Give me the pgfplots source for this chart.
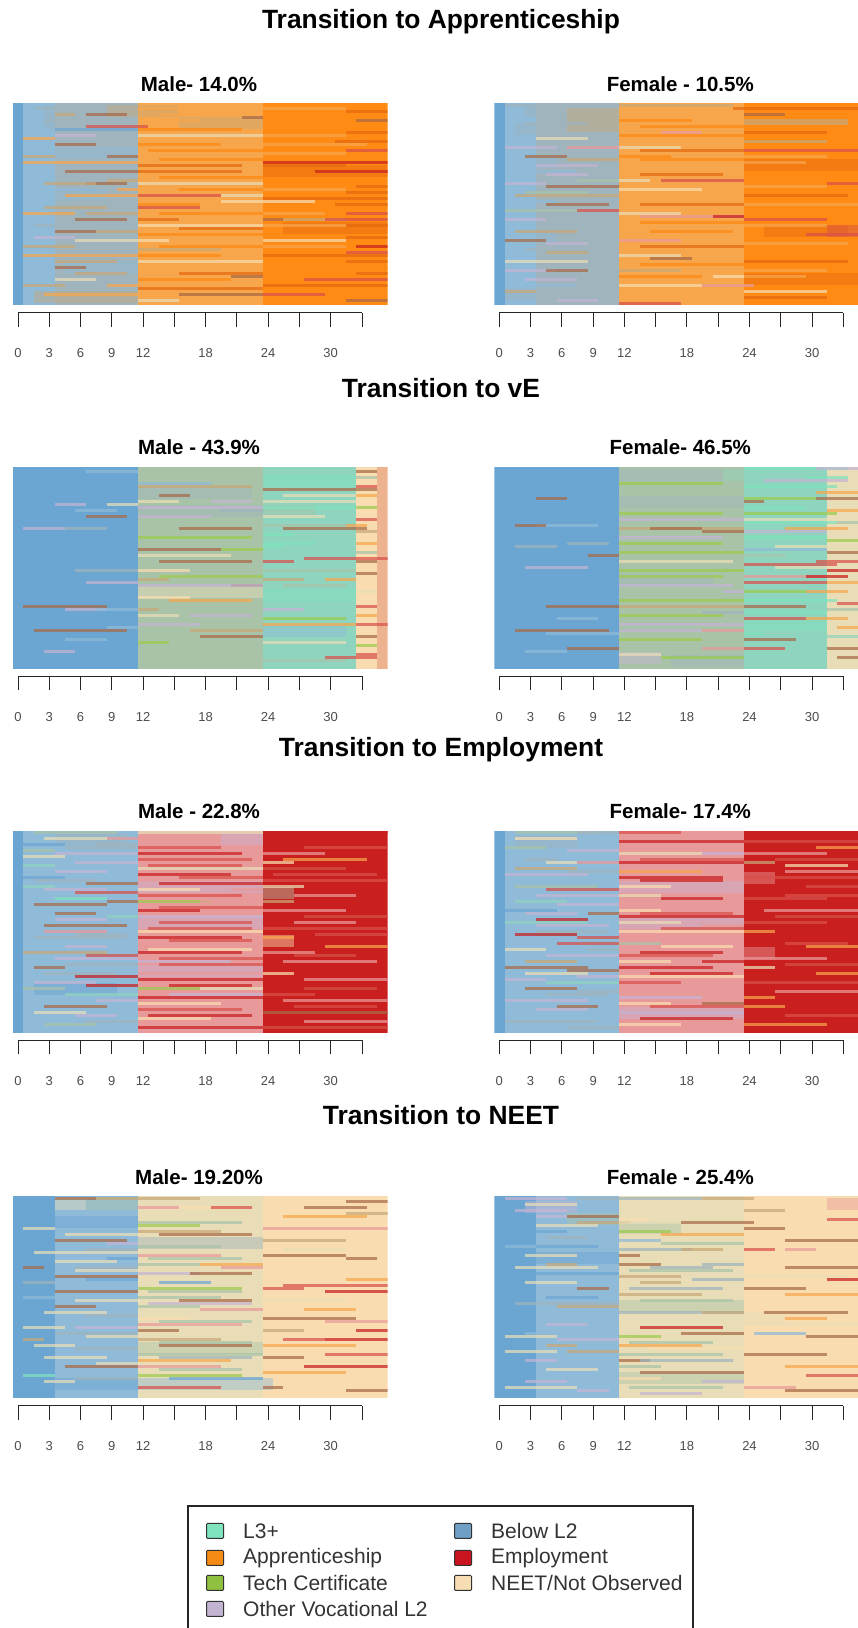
\documentclass[border=0pt]{standalone}
\usepackage{pgfplots}
\usepackage{pgfplotstable}
\usepackage{fontspec}
\setmainfont{Liberation Sans}
\pgfplotsset{compat=1.18}
\pgfplotsset{colormap={seq}{
HTML(0)=(7FE3BD) HTML(1)=(FF8A14) HTML(2)=(9CCB4F) HTML(3)=(C4B4D4) HTML(4)=(6BA6D3) HTML(5)=(C9201F)
HTML(6)=(F9DDB0) HTML(7)=(9FB4BC) HTML(8)=(F7A64C) HTML(9)=(C8A878) HTML(10)=(A9C3A8) HTML(11)=(E89A9A)
HTML(12)=(D9504A) HTML(13)=(8FD4BE) HTML(14)=(8FBAD8) HTML(15)=(E9DDB8) HTML(16)=(E56A10) HTML(17)=(A86A48)
HTML(18)=(EDB38F)}}
\definecolor{cL}{HTML}{7FE3BD}\definecolor{cA}{HTML}{F58A14}\definecolor{cT}{HTML}{8FC03F}
\definecolor{cO}{HTML}{C4B4D4}\definecolor{cB}{HTML}{6F9FC4}\definecolor{cE}{HTML}{C9141F}\definecolor{cN}{HTML}{F6DDB4}
% ---------- state tables: c = first month, y = row from top, l = months, s = state
\pgfplotstableread{
c y l s
0 33 1 4
1 33 3 14
4 33 8 7
12 33 12 8
24 33 12 1
}\Abase
\pgfplotstableread{
c y l s
3 2 7 7
3 6 7 7
9 2 3 9
9 7 3 7
12 2 4 9
16 6 8 9
2 64 10 9
4 16 8 14
1 30 8 14
5 54 7 14
24 22 12 16
26 41 10 16
}\Aband
\pgfplotstableread{
c y l s
2 1 4 7
7 3 4 17
4 3 2 9
22 4 2 17
12 1 12 8
24 1 8 8
12 5 6 8
7 7 6 12
4 8 8 4
12 8 10 1
12 10 12 15
24 10 8 8
1 11 3 8
4 13 4 17
12 13 8 1
13 15 11 1
1 17 3 9
9 17 3 17
1 19 11 8
24 19 12 5
12 20 10 16
24 20 8 16
5 22 7 17
12 22 10 16
29 22 7 5
7 26 4 17
3 26 5 9
12 26 12 15
10 28 2 8
5 30 7 8
12 30 8 12
20 30 4 15
24 31 12 16
6 32 6 7
20 32 9 6
12 33 6 1
3 34 6 9
12 34 6 12
24 34 12 1
1 36 5 8
7 36 5 9
6 38 5 17
12 38 4 16
24 38 2 17
26 38 6 9
30 38 6 12
12 40 12 6
24 40 8 8
4 42 4 17
8 42 4 9
12 43 12 1
6 45 6 15
12 45 3 6
24 45 8 6
1 47 5 9
12 48 8 9
1 50 11 8
12 50 8 1
24 50 12 16
4 52 6 9
12 52 12 6
4 54 3 17
20 54 4 8
24 54 12 1
21 57 3 17
4 58 4 15
12 58 9 1
28 58 8 12
1 60 4 9
9 60 3 8
12 61 12 16
3 63 9 8
16 63 8 17
24 63 6 12
32 65 4 17
12 65 4 15
32 2 4 16
33 5 3 17
32 9 4 16
31 12 5 16
32 15 4 12
33 27 3 16
32 29 4 16
31 33 5 16
32 36 4 12
32 40 4 16
32 44 4 16
33 47 3 5
32 49 4 12
32 52 4 16
33 56 3 16
32 60 4 16
24 7 8 1
24 13 10 8
24 16 8 8
24 28 8 8
24 36 6 8
24 47 8 8
24 60 8 16
14 3 8 8
14 18 10 1
14 24 10 1
16 28 8 1
14 36 10 1
16 41 8 16
14 47 10 1
16 56 8 16
3 5 8 7
4 10 4 3
4 24 6 7
9 25 3 9
4 28 4 14
2 40 6 7
2 44 4 3
8 47 4 7
6 56 5 9
}\Astripes
\pgfplotstableread{
c y l s
0 33 1 4
1 33 3 14
4 33 8 7
12 33 12 8
24 33 12 1
}\Bbase
\pgfplotstableread{
c y l s
3 2 4 7
7 3 5 9
2 8 5 7
7 7 5 9
1 19 5 14
2 44 4 14
1 63 4 7
9 64 3 7
24 20 12 16
26 42 8 16
32 42 4 12
24 58 12 16
}\Bband
\pgfplotstableread{
c y l s
1 0 11 7
12 0 11 9
23 1 13 16
24 3 4 17
12 3 8 8
12 5 7 1
24 5 10 9
24 6 10 9
4 11 5 15
16 9 4 11
12 10 12 1
24 12 8 9
1 14 5 3
7 14 5 11
12 14 6 15
14 15 10 16
24 15 12 12
3 17 4 17
12 17 5 1
24 19 6 8
7 18 5 9
4 20 6 3
12 20 12 8
5 23 4 3
8 25 4 10
12 25 3 15
16 25 8 12
1 26 4 3
24 25 6 1
5 27 7 17
12 28 8 6
24 27 8 8
32 26 4 12
2 30 10 9
12 31 12 8
24 30 10 16
2 32 4 14
5 33 6 17
24 33 12 8
1 35 8 10
8 35 4 12
12 36 6 15
14 37 10 11
21 37 3 5
24 38 8 12
1 38 4 3
9 40 3 7
12 41 12 8
2 42 6 9
15 42 8 1
30 43 6 12
1 45 4 17
12 45 6 11
5 46 4 3
24 46 10 8
5 49 4 9
8 50 4 7
12 50 6 15
15 51 4 17
1 52 8 15
24 52 10 16
1 55 5 3
5 55 4 17
12 55 6 9
21 57 3 6
12 57 8 1
24 57 6 8
4 60 4 14
12 60 8 6
20 60 5 11
1 62 3 9
24 62 8 6
6 65 4 3
12 66 6 12
14 7 10 1
14 18 10 1
14 23 8 16
14 33 10 16
14 39 10 1
14 47 10 16
14 53 10 1
14 63 10 8
24 9 8 16
24 17 8 8
24 23 8 1
24 35 8 1
24 40 8 8
24 49 8 1
24 55 8 8
24 64 8 16
3 6 6 7
3 22 5 14
3 29 6 10
4 41 4 7
3 48 6 7
3 58 5 3
}\Bstripes
\pgfplotstableread{
c y l s
0 33 12 4
12 33 12 10
24 33 9 13
33 33 2 6
35 33 1 18
}\Cbase
\pgfplotstableread{
c y l s
12 8 11 7
12 14 11 7
23 14 1 7
24 14 5 10
24 4 9 0
24 42 9 0
12 60 12 10
12 41 12 15
24 54 8 14
}\Cband
\pgfplotstableread{
c y l s
7 1 5 14
12 1 11 10
33 1 2 17
33 3 2 10
12 5 7 14
12 6 11 9
24 7 11 17
33 6 2 12
14 9 3 17
26 9 7 15
12 11 4 15
19 11 4 3
4 12 3 3
9 12 3 15
24 11 9 15
12 13 12 3
6 14 4 14
20 14 4 7
24 13 9 0
7 16 4 17
12 16 7 3
24 16 6 15
24 19 8 10
32 19 2 8
1 20 4 3
5 20 4 7
16 20 7 17
26 20 8 17
12 23 11 2
24 22 3 0
33 21 2 9
9 25 3 4
12 25 8 10
24 25 5 0
12 27 8 17
20 27 4 2
24 26 2 0
12 29 9 15
28 30 8 12
14 31 9 17
24 31 3 12
33 31 2 17
6 34 6 7
12 34 5 6
24 34 9 10
14 36 10 2
24 37 4 9
12 37 3 9
30 37 3 8
7 38 5 3
21 39 3 17
26 39 6 10
2 40 3 4
12 39 12 3
12 43 5 6
15 44 8 8
1 46 8 17
5 47 4 3
8 47 4 14
24 47 4 3
12 47 2 9
12 49 4 15
17 49 6 3
24 50 8 2
24 52 9 8
33 52 3 12
12 52 6 3
9 53 3 14
2 54 9 17
5 57 4 14
17 54 7 9
18 56 6 17
24 58 8 15
12 58 3 2
3 61 3 3
26 61 7 13
33 62 2 12
30 63 5 12
24 64 8 10
33 9 2 8
33 13 2 2
33 17 2 12
33 25 2 8
33 28 2 10
33 35 2 17
33 41 2 15
33 46 2 12
33 49 2 8
33 56 2 17
33 59 2 2
}\Cstripes
\pgfplotstableread{
c y l s
0 33 12 4
12 33 12 10
24 33 8 13
32 33 4 15
}\Dbase
\pgfplotstableread{
c y l s
12 2 10 7
22 2 2 13
12 11 12 7
12 37 9 7
24 52 8 0
24 63 8 13
12 63 4 3
17 64 7 7
}\Dband
\pgfplotstableread{
c y l s
24 0 10 0
31 0 4 3
26 4 8 3
30 3 4 0
12 5 10 2
24 6 9 0
12 6 9 10
31 8 4 8
24 10 7 2
24 11 2 17
4 10 3 17
31 10 4 17
24 13 6 0
12 15 10 2
24 15 9 2
12 17 12 3
24 17 9 15
24 18 9 0
4 19 6 14
12 20 12 9
2 19 3 17
24 21 8 3
28 20 6 8
15 20 5 17
20 21 4 17
12 23 10 3
24 23 8 0
7 25 4 7
12 25 10 2
24 27 8 14
2 26 4 7
27 26 8 15
12 28 12 2
32 28 4 17
9 29 3 17
24 29 4 10
12 31 11 15
31 31 4 12
3 33 6 3
24 32 9 12
12 34 12 2
27 33 6 15
12 36 10 2
24 36 8 11
30 36 4 5
24 38 8 12
24 39 6 13
12 39 11 3
22 41 2 3
24 41 6 2
30 41 4 8
12 44 12 2
24 44 9 0
12 46 12 9
5 46 7 17
24 46 6 17
24 48 8 0
20 48 4 7
12 49 10 2
6 50 4 14
24 50 6 12
30 50 4 8
2 54 9 17
12 52 12 3
12 54 8 3
20 54 4 11
24 55 2 0
5 55 7 14
24 57 5 17
12 57 8 2
12 59 10 10
7 60 5 17
3 61 4 14
20 60 4 11
24 60 4 12
12 62 4 15
32 60 4 17
16 63 8 2
32 14 4 8
33 18 3 10
32 24 4 2
32 34 3 5
32 38 4 8
33 45 3 12
32 47 4 10
33 53 3 8
32 56 4 13
33 63 3 17
}\Dstripes
\pgfplotstableread{
c y l s
0 33 1 4
1 33 11 14
12 33 12 11
24 33 12 5
}\Ebase
\pgfplotstableread{
c y l s
12 2 8 11
20 2 4 3
24 3 8 5
4 2 7 7
24 20 3 10
24 36 3 6
12 18 12 3
12 30 12 3
12 46 12 3
2 52 8 4
}\Eband
\pgfplotstableread{
c y l s
2 0 8 10
12 0 12 15
24 0 12 5
3 2 6 15
9 2 3 11
1 4 4 4
5 5 7 7
12 5 8 12
20 5 4 11
1 6 3 10
4 7 8 3
12 7 10 5
24 7 6 11
1 8 4 15
12 9 11 12
26 9 8 8
24 10 3 6
1 11 3 13
4 13 5 3
12 12 12 15
24 12 8 12
12 14 9 5
1 15 4 4
7 15 5 14
2 16 6 7
24 16 12 12
7 17 5 17
14 17 10 5
1 18 3 13
3 19 6 3
12 19 6 6
21 19 3 11
24 18 4 15
12 21 10 12
27 21 6 11
4 22 5 0
9 23 3 17
12 23 7 2
18 23 6 11
2 24 7 17
24 23 3 9
1 26 9 14
12 26 6 5
24 26 8 11
9 28 3 13
12 28 12 3
4 29 5 3
14 30 9 12
3 31 8 17
24 32 12 12
3 33 6 11
12 33 12 6
2 35 9 7
12 35 10 5
24 35 3 8
4 37 5 14
12 37 9 11
5 38 4 3
30 38 6 8
1 40 8 9
12 40 10 5
24 40 5 11
4 42 8 3
12 43 9 3
14 44 10 12
26 43 9 11
2 45 3 17
3 47 7 7
12 47 12 11
24 47 3 6
6 48 6 5
12 49 12 5
28 49 8 11
1 52 4 10
12 52 6 2
18 52 6 15
5 54 7 13
24 54 5 12
12 55 12 5
12 57 8 6
26 56 10 11
3 58 6 17
12 59 10 12
2 60 5 15
6 61 4 3
24 60 12 17
12 62 7 6
3 64 5 10
12 65 12 5
24 65 12 12
8 4 4 7
6 10 6 3
6 20 6 12
4 27 4 17
6 34 5 7
7 41 5 12
5 44 7 7
2 50 6 3
7 51 5 5
8 56 4 3
7 63 5 7
13 11 9 12
16 15 8 12
14 25 10 12
13 32 10 12
15 36 8 12
13 39 10 6
14 42 10 12
15 51 8 5
15 54 9 3
13 61 10 5
28 5 8 12
25 14 10 12
28 28 8 12
27 30 6 11
29 34 7 12
27 41 6 12
28 52 7 12
27 58 8 12
28 63 8 11
}\Estripes
\pgfplotstableread{
c y l s
0 33 1 4
1 33 11 14
12 33 12 11
24 33 12 5
}\Fbase
\pgfplotstableread{
c y l s
24 15 3 11
24 40 3 11
12 18 12 3
12 30 12 3
12 60 12 3
26 2 6 5
2 3 6 7
}\Fband
\pgfplotstableread{
c y l s
2 0 8 10
8 0 4 7
12 0 6 12
18 0 6 11
28 0 8 5
2 2 6 6
12 3 12 5
24 3 12 12
1 5 4 10
12 5 12 11
31 5 5 8
12 7 8 15
20 7 4 3
24 7 8 11
3 9 3 7
5 10 3 15
8 10 4 11
12 10 12 5
24 10 3 9
2 12 6 9
28 11 6 6
12 13 8 8
1 14 8 3
12 15 10 5
24 15 12 12
4 16 4 14
2 18 8 10
12 18 5 6
24 18 12 5
30 18 6 12
5 19 7 12
4 21 8 3
12 21 4 15
16 22 6 5
2 23 5 13
24 22 8 12
6 24 6 3
12 24 10 11
1 26 5 4
3 27 5 3
9 27 3 17
12 26 4 6
26 26 10 11
12 28 12 5
4 29 5 5
1 30 8 13
12 30 6 15
20 31 4 11
24 30 8 12
4 33 7 7
12 33 12 6
2 34 6 5
24 33 3 8
12 35 8 11
24 35 12 5
6 37 6 12
12 37 4 10
16 38 7 6
1 39 4 15
30 38 6 8
5 41 7 3
12 41 9 12
24 42 8 11
3 43 5 9
12 43 5 6
20 43 4 5
1 45 8 17
12 45 9 5
24 45 3 15
3 47 6 15
12 48 12 6
31 47 5 8
1 49 4 3
5 50 7 13
12 50 6 12
24 50 12 12
3 52 5 17
12 52 12 11
8 53 4 7
12 55 8 3
24 55 3 8
1 56 8 3
12 57 5 6
20 57 4 17
6 58 4 17
24 58 4 8
12 60 12 3
4 61 4 14
1 63 9 7
12 64 6 6
18 64 6 11
24 64 8 8
7 6 5 3
7 13 5 7
4 31 7 3
8 35 4 12
9 39 3 7
7 46 5 17
8 48 4 3
5 54 6 7
4 59 5 3
7 65 5 7
14 9 10 12
14 16 8 5
14 27 9 12
16 32 8 12
14 40 8 5
15 47 8 5
15 58 9 12
14 62 9 5
27 9 8 12
28 13 7 11
28 21 8 12
27 28 8 12
28 37 6 12
28 44 8 12
27 53 8 11
28 61 8 12
}\Fstripes
\pgfplotstableread{
c y l s
0 33 1 4
1 33 3 4
4 33 8 14
12 33 12 15
24 33 12 6
}\Gbase
\pgfplotstableread{
c y l s
4 2 3 15
7 2 5 10
4 8 8 4
12 50 12 10
12 15 12 7
12 62 13 14
4 62 8 4
32 62 4 6
12 38 8 15
24 4 12 6
}\Gband
\pgfplotstableread{
c y l s
4 0 4 17
8 0 4 9
12 0 6 9
24 0 8 6
32 1 4 17
12 3 4 11
16 3 6 6
19 3 4 12
28 3 6 17
32 5 4 9
4 5 8 14
12 6 4 15
12 8 10 10
26 6 8 8
12 9 6 2
1 10 3 15
12 11 8 9
24 10 12 11
1 12 3 4
5 12 7 15
14 12 9 17
24 14 8 9
4 14 7 17
9 15 3 3
12 16 8 10
26 17 6 15
2 18 10 15
12 19 8 11
24 19 8 17
9 20 3 4
4 21 6 15
32 20 3 17
12 22 6 10
18 22 6 8
1 23 2 17
6 23 6 7
20 23 4 11
24 23 6 6
12 25 6 3
17 25 6 17
4 26 8 17
14 28 5 4
32 27 4 8
1 28 3 7
24 28 4 6
26 29 10 12
9 29 3 14
24 30 4 12
12 30 10 2
4 31 8 17
30 31 6 5
1 33 4 14
12 33 8 10
16 34 7 17
24 34 8 15
12 36 6 10
4 36 4 17
18 37 6 11
28 37 5 8
3 38 6 15
12 40 5 6
24 40 9 17
6 41 6 14
12 42 10 11
30 41 6 11
1 43 4 15
12 44 4 17
4 45 8 7
24 44 4 9
33 44 3 5
1 47 2 9
5 48 6 14
12 47 8 9
30 47 6 5
26 47 6 12
2 49 4 15
14 49 9 17
24 49 9 8
9 51 3 14
12 52 12 10
30 52 6 12
3 53 6 15
12 54 9 8
24 53 4 17
5 56 7 17
12 56 8 11
28 56 8 5
4 58 3 14
12 59 10 2
24 58 8 8
1 59 3 0
15 60 9 4
3 61 3 15
12 63 8 12
24 63 2 17
32 64 4 17
7 17 5 7
6 24 6 15
7 27 5 4
6 34 6 15
7 39 5 7
6 43 6 3
7 46 5 15
6 50 6 7
8 55 4 15
6 60 6 7
13 20 9 10
13 27 10 15
13 31 9 10
13 35 10 3
14 41 9 10
14 46 9 15
14 48 9 10
14 53 9 7
14 57 8 10
}\Gstripes
\pgfplotstableread{
c y l s
0 33 1 4
1 33 3 4
4 33 8 14
12 33 12 15
24 33 12 6
}\Hbase
\pgfplotstableread{
c y l s
3 3 5 3
7 7 5 10
4 20 8 4
4 32 8 14
12 10 6 10
18 13 6 15
12 36 12 10
32 2 4 11
24 40 4 15
12 60 12 10
}\Hband
\pgfplotstableread{
c y l s
1 0 6 3
8 0 12 7
20 0 5 9
3 2 5 15
2 4 5 3
4 6 3 3
7 6 5 17
12 7 3 6
24 4 4 9
8 8 5 9
12 8 13 15
18 8 7 17
32 7 4 12
4 9 6 15
2 11 5 4
4 10 4 14
12 11 5 2
16 12 8 8
24 10 4 17
5 13 4 7
12 14 4 14
16 15 8 10
28 14 7 17
1 16 3 14
4 16 6 4
12 17 7 7
18 17 4 9
28 17 3 11
24 17 3 12
3 19 5 15
12 19 2 17
12 22 4 17
15 23 6 7
24 21 4 6
5 22 3 9
2 23 8 15
20 22 4 7
28 23 8 17
4 25 8 4
12 26 6 9
24 26 10 15
3 28 5 15
14 28 4 9
19 27 5 7
32 27 4 5
8 30 3 17
24 30 6 17
5 33 5 4
12 32 8 9
28 32 7 8
2 35 10 7
6 36 6 9
12 38 12 7
26 38 8 17
4 38 4 14
20 38 4 9
28 40 4 8
5 42 4 3
14 43 8 5
24 42 12 15
18 45 6 17
3 45 3 14
25 45 5 14
1 46 5 15
6 47 6 3
12 46 4 2
30 46 6 17
5 49 3 9
12 49 8 8
15 50 9 6
1 51 5 15
7 51 5 9
12 52 10 10
24 52 8 17
12 54 3 17
3 54 3 3
8 56 4 14
12 56 4 10
28 56 8 8
5 57 5 15
14 58 10 17
24 58 4 6
30 59 5 12
12 60 4 6
3 61 4 3
20 61 4 3
1 63 7 15
8 64 3 3
24 63 5 11
28 64 8 17
14 65 6 3
13 20 9 15
13 24 10 10
13 30 9 7
14 34 9 10
13 41 10 15
13 48 8 10
14 54 9 7
13 63 9 10
}\Hstripes
% ---------- one panel: left, top, visible width, xmax, title, tables
\newcommand{\seqplot}[3]{\addplot[point meta=\thisrow{s},
  quiver={u=\thisrow{l},v=0,colored=mapped color,every arrow/.append style={-,line width=#2,opacity=#3}}]
  table[x=c,y=y]{#1};}
\newcommand{\panel}[8]{%
\begin{axis}[scale only axis,width=#3pt,height=201pt,at={(#1pt,{1628pt-#2pt})},anchor=north west,hide axis,
  xmin=0,xmax=#4,ymin=-0.5,ymax=66.5,y dir=reverse,colormap name=seq,point meta min=0,point meta max=18]
\seqplot{#6}{210pt}{1}
\seqplot{#7}{12pt}{0.45}
\seqplot{#8}{3pt}{0.72}
\end{axis}
\begin{axis}[scale only axis,width=344pt,height=1pt,at={({#1pt+5pt},{1628pt-#2pt-209pt})},anchor=south west,
  axis y line=none,axis x line*=bottom,axis line style={-,line width=1pt,black!85},
  xmin=0,xmax=33,ymin=0,ymax=1,xtick={0,3,...,33},xticklabels={0,3,6,9,12,,18,,24,,30,},
  tick align=outside,major tick length=14pt,tick style={line width=1pt,black!85},
  xticklabel style={font=\fontsize{13}{14}\selectfont,text=black!70,yshift=-18pt},
  /pgf/number format/assume math mode=true]
\addplot[draw=none] coordinates {(0,0) (33,0)};
\end{axis}
\node[font=\bfseries\fontsize{20.5}{22}\selectfont] at ({#1pt+186pt},{1628pt-#2pt+20pt}) {#5};
}
\newcommand{\rowtitle}[2]{\node[font=\bfseries\fontsize{26.4}{28}\selectfont] at (441pt,{1628pt-#1pt}) {#2};}
\newcommand{\lgd}[4]{\draw[fill=#3,draw=black!80,line width=1pt,rounded corners=1pt] ({#1pt-8.5pt},{1628pt-#2pt-7.5pt}) rectangle ({#1pt+8.5pt},{1628pt-#2pt+7.5pt});
\node[anchor=west,inner sep=0pt,font=\fontsize{21}{23}\selectfont,text=black!80] at ({#1pt+28pt},{1628pt-#2pt}) {#4};}
\begin{document}
\begin{tikzpicture}[x=1pt,y=1pt]
\useasboundingbox (0,0) rectangle (858pt,1628pt);
\rowtitle{22}{Transition to Apprenticeship}
\rowtitle{388}{Transition to vE}
\rowtitle{750}{Transition to Employment}
\rowtitle{1115}{Transition to NEET}
\panel{13}{104}{374.5}{36}{Male- 14.0\%}{\Abase}{\Aband}{\Astripes}
\panel{494.3}{104}{363.7}{35}{Female - 10.5\%}{\Bbase}{\Bband}{\Bstripes}
\panel{13}{467.5}{374.5}{36}{Male - 43.9\%}{\Cbase}{\Cband}{\Cstripes}
\panel{494.3}{467.5}{363.7}{35}{Female- 46.5\%}{\Dbase}{\Dband}{\Dstripes}
\panel{13}{831.5}{374.5}{36}{Male - 22.8\%}{\Ebase}{\Eband}{\Estripes}
\panel{494.3}{831.5}{363.7}{35}{Female- 17.4\%}{\Fbase}{\Fband}{\Fstripes}
\panel{13}{1197}{374.5}{36}{Male- 19.20\%}{\Gbase}{\Gband}{\Gstripes}
\panel{494.3}{1197}{363.7}{35}{Female - 25.4\%}{\Hbase}{\Hband}{\Hstripes}
\draw[black!85,line width=1.4pt] (188pt,-6pt) rectangle (693pt,{1628pt-1506pt});
\lgd{215}{1531}{cL}{L3+}
\lgd{215}{1558}{cA}{Apprenticeship}
\lgd{215}{1583}{cT}{Tech Certificate}
\lgd{215}{1609}{cO}{Other Vocational L2}
\lgd{463}{1531}{cB}{Below L2}
\lgd{463}{1558}{cE}{Employment}
\lgd{463}{1583}{cN}{NEET/Not Observed}
\end{tikzpicture}
\end{document}
